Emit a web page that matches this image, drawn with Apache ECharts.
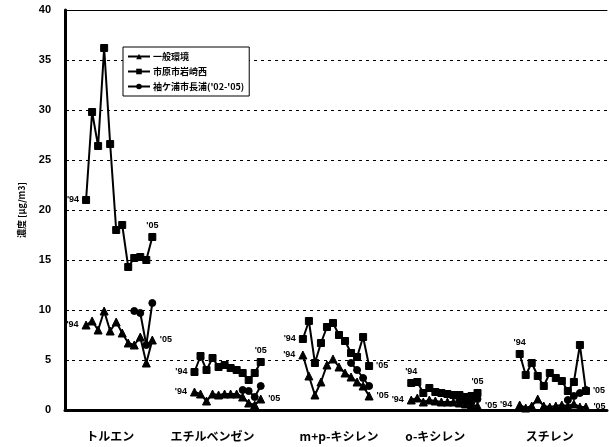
<!DOCTYPE html>
<html>
<head>
<meta charset="utf-8">
<script src="https://cdn.jsdelivr.net/npm/echarts@6/dist/echarts.min.js"></script>
<style>
  html, body { margin: 0; padding: 0; background: #fff; }
  #chart { width: 609px; height: 447px; }
</style>
</head>
<body>
<div id="chart"></div>
<script>
// VOC annual means (µg/m3), fiscal years '94–'05, one row per compound
const compounds = ['トルエン', 'エチルベンゼン', 'm+p-キシレン', 'o-キシレン', 'スチレン'];
const years = ["'94", "'95", "'96", "'97", "'98", "'99", "'00", "'01", "'02", "'03", "'04", "'05"];

// 一般環境
const ippan = [
  [8.5, 8.9, 8.0, 9.9, 7.9, 8.8, 7.7, 6.7, 6.5, 7.3, 4.7, 7.0],
  [1.8, 1.6, 0.9, 1.6, 1.5, 1.6, 1.6, 1.6, 1.3, 0.7, 0.5, 1.1],
  [5.5, 3.4, 1.5, 2.8, 4.5, 5.1, 4.3, 3.7, 3.3, 2.8, 2.4, 1.4],
  [1.0, 1.2, 0.8, 1.0, 0.9, 0.8, 0.8, 0.8, 0.7, 0.6, 0.5, 0.4],
  [0.5, 0.2, 0.4, 1.1, 0.4, 0.3, 0.4, 0.5, 0.4, 0.6, 0.3, 0.3]
];
// 市原市岩崎西
const iwasaki = [
  [21.0, 29.8, 26.4, 36.2, 26.6, 18.0, 18.5, 14.3, 15.2, 15.3, 15.0, 17.3],
  [3.8, 5.4, 4.0, 5.2, 4.3, 4.5, 4.2, 4.0, 3.7, 3.0, 3.7, 4.8],
  [7.1, 8.9, 4.7, 6.7, 8.3, 8.7, 7.5, 6.9, 5.7, 5.3, 7.3, 4.4],
  [2.7, 2.8, 1.7, 2.2, 1.8, 1.7, 1.6, 1.5, 1.5, 1.3, 1.4, 1.7],
  [5.6, 3.5, 4.7, 3.4, 2.4, 3.7, 3.2, 2.9, 1.9, 2.8, 6.5, 1.9]
];
// 袖ケ浦市長浦 ('02–'05 only)
const nagaura = [
  [9.9, 9.7, 6.5, 10.7],
  [2.0, 1.9, 1.3, 2.4],
  [4.7, 4.0, 3.2, 2.4],
  [1.0, 0.9, 0.8, 1.1],
  [1.0, 1.4, 1.7, 2.0]
];
const nagauraFirstYear = 8; // index of '02 in years

// Category slot layout: blank slots before, between and after the compound groups
const LEAD = 3, GAP = 6, TRAIL = 3;
const GROUP = years.length + GAP;
const nSlots = LEAD + compounds.length * GROUP - GAP + TRAIL;
const slotOf = (g, i) => LEAD + g * GROUP + i;

// where each compound name sits within its group (slot offset)
const nameOffset = [4, 3, 6, 4, 5];
const categories = new Array(nSlots).fill('');
compounds.forEach((c, g) => { categories[slotOf(g, nameOffset[g])] = c; });

// placement of the year tags at the start/end of each polyline
const tagPos = {
  ippan:   [['left', 'right'], ['left', 'right'], ['left', 'right'], ['left', 'right'], ['left', 'right']],
  iwasaki: [['left', 'top'], ['left', 'top'], ['left', 'right'], ['top', 'top'], ['top', 'right']]
};

const tagLabel = (text, pos) => ({
  show: true,
  formatter: text,
  position: pos,
  distance: 3,
  fontSize: 9,
  fontWeight: 'bold',
  color: '#000',
  fontFamily: 'Liberation Sans, Arial, sans-serif'
});

function buildSeriesData(rows, startYear, tags) {
  const data = new Array(nSlots).fill(null);
  rows.forEach((row, g) => {
    row.forEach((v, k) => {
      const i = startYear + k;
      let item = v;
      if (tags && (k === 0 || k === row.length - 1)) {
        const first = k === 0;
        item = {
          value: v,
          label: tagLabel(first ? years[0] : years[years.length - 1], tags[g][first ? 0 : 1])
        };
      }
      data[slotOf(g, i)] = item;
    });
  });
  return data;
}

const jp = "'Noto Sans CJK JP', sans-serif";

const chart = echarts.init(document.getElementById('chart'), null, { renderer: 'canvas' });

const lineStyle = { color: '#000', width: 2 };
const itemStyle = { color: '#000', borderColor: '#000' };

chart.setOption({
  animation: false,
  backgroundColor: '#fff',
  grid: { left: 65, right: 2, top: 10, bottom: 37, containLabel: false },
  legend: {
    orient: 'vertical',
    left: 123,
    top: 47,
    padding: [5, 5, 5, 4],
    itemGap: 6,
    itemWidth: 22,
    itemHeight: 7,
    backgroundColor: '#fff',
    borderColor: '#000',
    borderWidth: 1,
    borderRadius: 0,
    textStyle: { fontSize: 9, fontWeight: 'bold', color: '#000', fontFamily: jp, padding: [0, 0, 0, -2] },
    data: ['一般環境', '市原市岩崎西', "袖ケ浦市長浦('02-'05)"]
  },
  xAxis: [
    {
      type: 'category',
      data: categories,
      boundaryGap: true,
      position: 'bottom',
      axisLine: { show: true, lineStyle: { color: '#000', width: 3 } },
      axisTick: { show: false },
      axisLabel: {
        interval: 0,
        margin: 20,
        fontSize: 12,
        fontWeight: 'bold',
        color: '#000',
        fontFamily: jp
      },
      splitLine: { show: false }
    },
    {
      type: 'category',
      data: categories,
      position: 'top',
      axisLine: { show: true, lineStyle: { color: '#000', width: 1 } },
      axisTick: { show: false },
      axisLabel: { show: false },
      splitLine: { show: false }
    }
  ],
  yAxis: {
    type: 'value',
    min: 0,
    max: 40,
    interval: 5,
    name: '濃度 [μg/m3]',
    nameLocation: 'middle',
    nameGap: 39,
    nameRotate: 90,
    nameTextStyle: { fontSize: 9, fontWeight: 'bold', color: '#000', fontFamily: jp },
    axisLine: { show: true, lineStyle: { color: '#000', width: 3 } },
    axisTick: { show: true, inside: true, length: 4, lineStyle: { color: '#000', width: 1 } },
    axisLabel: {
      margin: 14,
      fontSize: 11,
      fontWeight: 'bold',
      color: '#000',
      fontFamily: 'Liberation Sans, Arial, sans-serif'
    },
    splitLine: { show: true, lineStyle: { color: '#000', width: 1, type: [3, 4] } }
  },
  series: [
    {
      name: '一般環境',
      type: 'line',
      symbol: 'triangle',
      symbolSize: 8,
      connectNulls: false,
      lineStyle, itemStyle,
      data: buildSeriesData(ippan, 0, tagPos.ippan)
    },
    {
      name: '市原市岩崎西',
      type: 'line',
      symbol: 'rect',
      symbolSize: 7,
      connectNulls: false,
      lineStyle, itemStyle,
      data: buildSeriesData(iwasaki, 0, tagPos.iwasaki)
    },
    {
      name: "袖ケ浦市長浦('02-'05)",
      type: 'line',
      symbol: 'circle',
      symbolSize: 7,
      connectNulls: false,
      lineStyle, itemStyle,
      data: buildSeriesData(nagaura, nagauraFirstYear, null)
    }
  ]
});
</script>
</body>
</html>
